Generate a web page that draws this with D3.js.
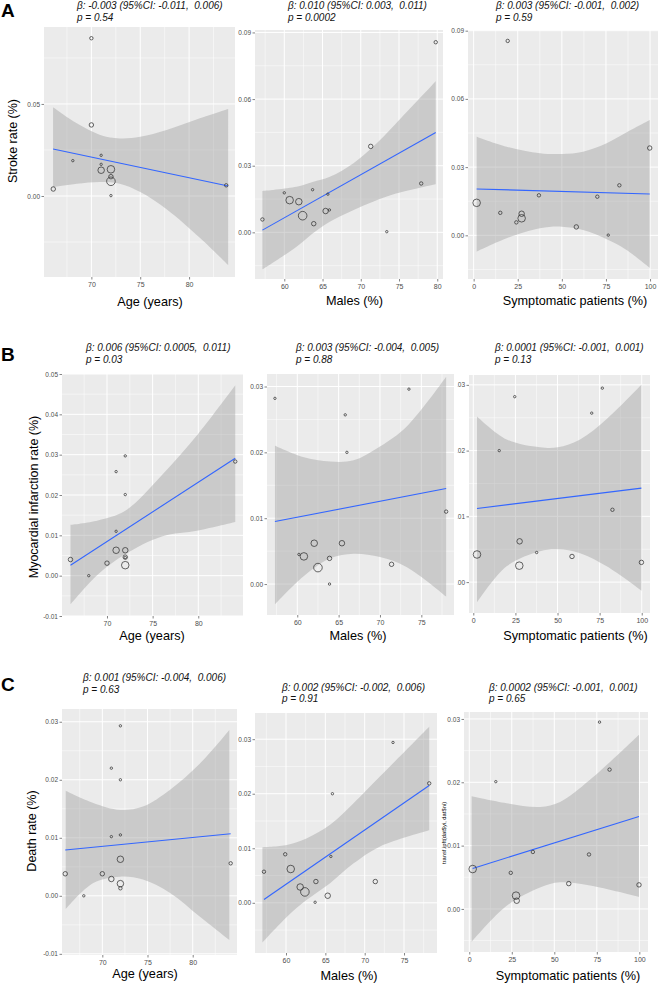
<!DOCTYPE html>
<html><head><meta charset="utf-8">
<script src="https://cdn.jsdelivr.net/npm/d3@7"></script>
<style>body{margin:0;background:#fff}svg{display:block}</style>
</head><body>
<svg id="c" width="660" height="985"></svg>
<script>
// ---------- tick values ----------
const ageTicks = [70, 75, 80];
const malesTicks = [60, 65, 70, 75, 80];
const symptomaticTicks = [0, 25, 50, 75, 100];
const strokeAgeTicks = [0, 0.05];
const strokeTicks = [0, 0.03, 0.06, 0.09];
const miAgeTicks = [-0.01, 0, 0.01, 0.02, 0.03, 0.04, 0.05];
const rateTicks = [0, 0.01, 0.02, 0.03];
const deathAgeTicks = [-0.01, 0, 0.01, 0.02, 0.03];

// ---------- points: [x, rate, weight] ----------
const a1Points = [[66.1,0.0038,3],[70.0,0.0857,2],[70.0,0.0386,3],[68.1,0.0192,1],[71.0,0.0221,1],[71.0,0.0172,1],[71.0,0.014,5],[72.0,0.0145,6],[72.0,0.0105,3],[72.0,0.008,7],[72.0,0.0002,1],[83.8,0.0058,2]];
const a2Points = [[57.14,0.0058,2],[60.0,0.0178,1],[60.7,0.0145,6],[61.9,0.0138,5],[62.4,0.0075,7],[63.7,0.0192,1],[63.85,0.0039,3],[65.4,0.0096,4],[65.9,0.0101,1],[65.7,0.0172,1],[71.3,0.0387,3],[73.4,0.0003,1],[77.9,0.022,2],[79.8,0.0856,2]];
const a3Points = [[1.7,0.0143,6],[15.1,0.0099,2],[19.3,0.0855,2],[24.2,0.0057,2],[27.2,0.0095,4],[27.2,0.0075,6],[37.0,0.0176,2],[58.2,0.0037,3],[70.1,0.017,2],[76.3,0.0001,1],[82.6,0.022,2],[99.8,0.0384,3]];
const b1Points = [[66.0,0.004,3],[68.0,0.0,1],[70.0,0.0031,3],[71.0,0.0258,1],[71.0,0.011,1],[71.0,0.0063,5],[72.0,0.0297,1],[72.0,0.0201,1],[72.0,0.0063,4],[72.0,0.0045,1],[72.0,0.0046,3],[72.0,0.0026,6],[84.05,0.0283,2]];
const b2Points = [[57.3,0.0282,1],[60.2,0.0045,1],[60.8,0.0042,6],[62.05,0.0062,5],[62.5,0.0025,7],[63.9,0.0039,3],[63.9,0.0,1],[65.4,0.0062,4],[65.8,0.0257,1],[66.0,0.02,1],[71.4,0.003,3],[73.5,0.0296,1],[78.0,0.011,2]];
const b3Points = [[2.2,0.0042,6],[15.4,0.02,1],[24.6,0.0282,1],[27.5,0.0062,4],[27.3,0.0025,6],[37.6,0.0045,1],[58.6,0.0039,3],[70.3,0.0257,1],[76.6,0.0295,1],[82.6,0.011,2],[99.8,0.003,3]];
const c1Points = [[65.9,0.0038,3],[67.95,0.0,1],[70.0,0.0038,3],[71.0,0.022,1],[71.0,0.0102,1],[71.0,0.0029,4],[72.0,0.0293,1],[72.0,0.02,1],[72.0,0.0105,1],[72.0,0.0063,5],[72.0,0.0021,5],[72.0,0.0013,2],[84.2,0.0056,2]];
const c2Points = [[57.2,0.0057,2],[59.9,0.0089,2],[60.6,0.0062,6],[61.8,0.0029,5],[62.4,0.002,7],[63.7,0.0001,1],[63.8,0.0039,3],[65.3,0.0013,4],[65.7,0.0085,1],[65.9,0.02,1],[71.35,0.0039,3],[73.6,0.0294,1],[78.2,0.0219,2]];
const c3Points = [[2.0,0.0063,6],[15.6,0.0201,1],[24.4,0.0057,2],[27.5,0.0021,6],[27.9,0.0013,4],[37.4,0.009,2],[58.5,0.004,3],[70.4,0.0086,2],[76.6,0.0295,1],[82.5,0.022,2],[99.8,0.0038,3]];

// ---------- fitted lines: endpoints ----------
const a1Fit = [[66.08,0.0255],[84.0,0.0054]];
const a2Fit = [[57.14,0.001],[79.8,0.045]];
const a3Fit = [[1.7,0.0204],[99.8,0.0182]];
const b1Fit = [[66.0,0.0026],[84.05,0.0291]];
const b2Fit = [[57.3,0.0095],[78.0,0.0145]];
const b3Fit = [[2.2,0.0112],[99.8,0.0143]];
const c1Fit = [[65.9,0.0079],[84.2,0.0107]];
const c2Fit = [[57.2,0.0006],[78.2,0.0215]];
const c3Fit = [[2.0,0.0064],[99.8,0.0146]];

// ---------- confidence bands: [x, lower, upper] ----------
const a1Band = [[66.08,0.0047,0.0482],[68.5,0.0066,0.0395],[70.9,0.0076,0.0332],[72.9,0.0067,0.0313],[75.0,0.0022,0.0322],[77.7,-0.0072,0.0359],[81.1,-0.0227,0.0422],[84.0,-0.0375,0.0473]];
const a2Band = [[57.14,-0.0167,0.0186],[61.6,-0.0065,0.0205],[63.7,-0.0005,0.0227],[65.95,0.0048,0.025],[69.0,0.01,0.031],[71.6,0.0138,0.0385],[74.6,0.0175,0.049],[79.8,0.0217,0.068]];
const a3Band = [[1.7,-0.0072,0.0434],[18.7,-0.0013,0.039],[37.6,0.0031,0.0361],[50,0.0038,0.0358],[62,0.0023,0.0368],[75.4,-0.0017,0.0405],[86,-0.0061,0.045],[99.8,-0.0143,0.0507]];
const b1Band = [[66,-0.0071,0.0126],[69,0.0003,0.0137],[72,0.0053,0.0161],[76,0.0097,0.0249],[80,0.0112,0.0352],[84.05,0.0133,0.0472]];
const b2Band = [[57.3,-0.0031,0.021],[60.7,0.0011,0.0193],[64.0,0.0039,0.0186],[66.8,0.0046,0.0188],[70.0,0.0041,0.0209],[73.2,0.0026,0.0239],[78.0,-0.0019,0.0315]];
const b3Band = [[2.2,-0.0031,0.0252],[19.8,0.0024,0.0217],[39.6,0.0047,0.0205],[50.1,0.005,0.0205],[63.4,0.0044,0.0217],[79.2,0.0024,0.0248],[99.8,-0.0013,0.030]];
const c1Band = [[65.95,-0.0023,0.0181],[69.0,0.0022,0.016],[71.96,0.0033,0.0148],[74.5,0.0028,0.0154],[77.5,0.0005,0.0183],[80.8,-0.0036,0.0228],[84.05,-0.0076,0.0286]];
const c2Band = [[57.0,-0.0073,0.0102],[60.1,-0.0026,0.0106],[62.6,0.0005,0.0118],[65.6,0.0036,0.0143],[68.55,0.0072,0.0182],[71.9,0.0103,0.0231],[78.2,0.0133,0.0323]];
const c3Band = [[1.4,-0.0052,0.0178],[22,0.0005,0.0167],[41.6,0.0034,0.0161],[53.4,0.0042,0.0169],[71,0.0037,0.0204],[99.8,0.0019,0.0275]];

// ---------- texts ----------
const betaLabels = ["β: -0.003 (95%CI: -0.011,  0.006)","β: 0.010 (95%CI: 0.003,  0.011)","β: 0.003 (95%CI: -0.001,  0.002)",
  "β: 0.006 (95%CI: 0.0005,  0.011)","β: 0.003 (95%CI: -0.004,  0.005)","β: 0.0001 (95%CI: -0.001,  0.001)",
  "β: 0.001 (95%CI: -0.004,  0.006)","β: 0.002 (95%CI: -0.002,  0.006)","β: 0.0002 (95%CI: -0.001,  0.001)"];
const pLabels = ["p = 0.54","p = 0.0002","p = 0.59","p = 0.03","p = 0.88","p = 0.13","p = 0.63","p = 0.91","p = 0.65"];
const xTitles = ["Age (years)","Males (%)","Symptomatic patients (%)"];
const yTitles = ["Stroke rate (%)","Myocardial infarction rate (%)","Death rate (%)"];
const rowLetters = ["A","B","C"];

// ---------- layout ----------
const panels = [
 {pts:a1Points, fit:a1Fit, band:a1Band, xt:ageTicks, yt:strokeAgeTicks, xd:[65.15,84.7], yd:[-0.044,0.0918], x:44, y:27, w:191, h:250},
 {pts:a2Points, fit:a2Fit, band:a2Band, xt:malesTicks, yt:strokeTicks, xd:[56.17,80.75], yd:[-0.021,0.0911], x:255, y:30, w:188, h:249},
 {pts:a3Points, fit:a3Fit, band:a3Band, xt:symptomaticTicks, yt:strokeTicks, xd:[-3.2,104.5], yd:[-0.0192,0.0903], x:468, y:30, w:190, h:249},
 {pts:b1Points, fit:b1Fit, band:b1Band, xt:ageTicks, yt:miAgeTicks, xd:[65.07,84.9], yd:[-0.01,0.05], x:62, y:374, w:181, h:242},
 {pts:b2Points, fit:b2Fit, band:b2Band, xt:malesTicks, yt:rateTicks, xd:[56.34,78.95], yd:[-0.0047,0.0319], x:267, y:374, w:187, h:241},
 {pts:b3Points, fit:b3Fit, band:b3Band, xt:symptomaticTicks, yt:rateTicks, xd:[-2.55,104.9], yd:[-0.0047,0.0315], x:469, y:375, w:181, h:238, clipY:457.5},
 {pts:c1Points, fit:c1Fit, band:c1Band, xt:ageTicks, yt:deathAgeTicks, xd:[65.54,84.9], yd:[-0.0102,0.0322], x:62, y:709, w:175, h:246},
 {pts:c2Points, fit:c2Fit, band:c2Band, xt:malesTicks, yt:rateTicks, xd:[56.06,79.19], yd:[-0.0092,0.0348], x:255, y:713, w:182, h:240},
 {pts:c3Points, fit:c3Fit, band:c3Band, xt:symptomaticTicks, yt:rateTicks, xd:[-3.1,105.1], yd:[-0.0068,0.0311], x:464, y:712, w:184, h:240}
];
const annotPos = [[77,9,20.5],[288,9,20.5],[496,9,20.5],[86,351,363],[296,351,363],[495,351,363],[83,681,693],[282,691,702],[489,691,702]];
const xTitlePos = [[150,306],[354.5,305],[575,305],[152,640],[358,640],[575.5,640],[145,978],[349,980],[568,980]];
const yTitlePos = [[17,141],[38,497],[36,831]];
const letterPos = [[1,17],[1,361],[1,691]];

const FONT = "'Liberation Sans', Arial, sans-serif";
const svg = d3.select('#c');
const rScale = d3.scaleLinear().domain([1,7]).range([1.2,4.3]);
const fmt = d => d.toFixed(2);

function minorsOf(ticks, dom){
  const step = ticks[1]-ticks[0];
  const m = ticks.map(t => t - step/2).concat([ticks[ticks.length-1] + step/2]);
  return m.filter(v => v > dom[0] && v < dom[1]);
}

panels.forEach((p, i) => {
  const g = svg.append('g');
  const x = d3.scaleLinear().domain(p.xd).range([p.x, p.x + p.w]);
  const y = d3.scaleLinear().domain(p.yd).range([p.y + p.h, p.y]);
  const clipId = 'clip' + i;
  svg.append('clipPath').attr('id', clipId).append('rect')
    .attr('x', p.x).attr('y', p.y).attr('width', p.w).attr('height', p.h);
  g.append('rect').attr('x', p.x).attr('y', p.y).attr('width', p.w).attr('height', p.h).attr('fill', '#EBEBEB');
  const grid = g.append('g').attr('clip-path', `url(#${clipId})`);
  const xt = p.xt.filter(v => v >= p.xd[0] && v <= p.xd[1]);
  const yt = p.yt.filter(v => v >= p.yd[0] && v <= p.yd[1]);
  grid.selectAll('.vx').data(minorsOf(p.xt, p.xd)).join('line')
    .attr('x1', d => x(d)).attr('x2', d => x(d)).attr('y1', p.y).attr('y2', p.y + p.h)
    .attr('stroke', '#fff').attr('stroke-width', 0.5);
  grid.selectAll('.hy').data(minorsOf(p.yt, p.yd)).join('line')
    .attr('y1', d => y(d)).attr('y2', d => y(d)).attr('x1', p.x).attr('x2', p.x + p.w)
    .attr('stroke', '#fff').attr('stroke-width', 0.5);
  grid.selectAll('.vX').data(xt).join('line')
    .attr('x1', d => x(d)).attr('x2', d => x(d)).attr('y1', p.y).attr('y2', p.y + p.h)
    .attr('stroke', '#fff').attr('stroke-width', 1);
  grid.selectAll('.hY').data(yt).join('line')
    .attr('y1', d => y(d)).attr('y2', d => y(d)).attr('x1', p.x).attr('x2', p.x + p.w)
    .attr('stroke', '#fff').attr('stroke-width', 1);

  const area = d3.area().x(d => x(d[0])).y0(d => y(d[1])).y1(d => y(d[2])).curve(d3.curveCatmullRom.alpha(0.5));
  grid.append('path').attr('d', area(p.band)).attr('fill', '#999999').attr('fill-opacity', 0.4);
  const line = d3.line().x(d => x(d[0])).y(d => y(d[1]));
  grid.append('path').attr('d', line(p.fit)).attr('stroke', '#3366FF').attr('stroke-width', 1.1).attr('fill', 'none');
  grid.selectAll('circle').data(p.pts).join('circle')
    .attr('cx', d => x(d[0])).attr('cy', d => y(d[1])).attr('r', d => rScale(d[2]))
    .attr('fill', 'none').attr('stroke', '#333').attr('stroke-width', 0.75);

  // axes
  const ya = g.append('g').attr('transform', `translate(${p.x},0)`)
    .call(d3.axisLeft(y).tickValues(yt).tickSize(2.5).tickPadding(1.5).tickFormat(fmt));
  const xa = g.append('g').attr('transform', `translate(0,${p.y + p.h})`)
    .call(d3.axisBottom(x).tickValues(xt).tickSize(2.5).tickPadding(2.5).tickFormat(d3.format('d')));
  [ya, xa].forEach(a => {
    a.select('.domain').remove();
    a.attr('font-family', FONT);
    a.selectAll('line').attr('stroke', '#333').attr('stroke-width', 0.6);
    a.selectAll('text').attr('fill', '#4D4D4D');
  });
  ya.attr('font-size', 6.5);
  xa.attr('font-size', 7);
  if (p.clipY) {
    // clip rect is in the axis group's local coordinates (group is translated by p.x)
    svg.append('clipPath').attr('id', 'yl' + i).append('rect')
      .attr('x', p.clipY - p.x).attr('y', p.y - 10).attr('width', 40).attr('height', p.h + 20);
    ya.attr('clip-path', `url(#yl${i})`);
  }

  // annotations
  const ap = annotPos[i];
  const t = svg.append('g').attr('font-family', FONT).attr('font-style', 'italic').attr('font-size', 10).attr('fill', '#111');
  t.append('text').attr('x', ap[0]).attr('y', ap[1]).style('white-space', 'pre').text(betaLabels[i]);
  t.append('text').attr('x', ap[0]).attr('y', ap[2]).style('white-space', 'pre').text(pLabels[i]);

  const xp = xTitlePos[i];
  svg.append('text').attr('x', xp[0]).attr('y', xp[1]).attr('text-anchor', 'middle')
    .attr('font-family', FONT).attr('font-size', 12.7).attr('fill', '#000').text(xTitles[i % 3]);
});

yTitles.forEach((s, r) => {
  const [tx, ty] = yTitlePos[r];
  svg.append('text').attr('transform', `translate(${tx},${ty}) rotate(-90)`).attr('text-anchor', 'middle')
    .attr('font-family', FONT).attr('font-size', 12.5).attr('fill', '#000').text(s);
});
svg.append('text').attr('transform', 'translate(446,833) rotate(-90)').attr('text-anchor', 'middle')
  .attr('font-family', FONT).attr('font-size', 5.8).attr('fill', '#000').text('transf.ipft(dat$yi, dat$ni)');

rowLetters.forEach((s, r) => {
  svg.append('text').attr('x', letterPos[r][0]).attr('y', letterPos[r][1])
    .attr('font-family', FONT).attr('font-weight', 'bold').attr('font-size', 19).attr('fill', '#000').text(s);
});
</script>
</body></html>
